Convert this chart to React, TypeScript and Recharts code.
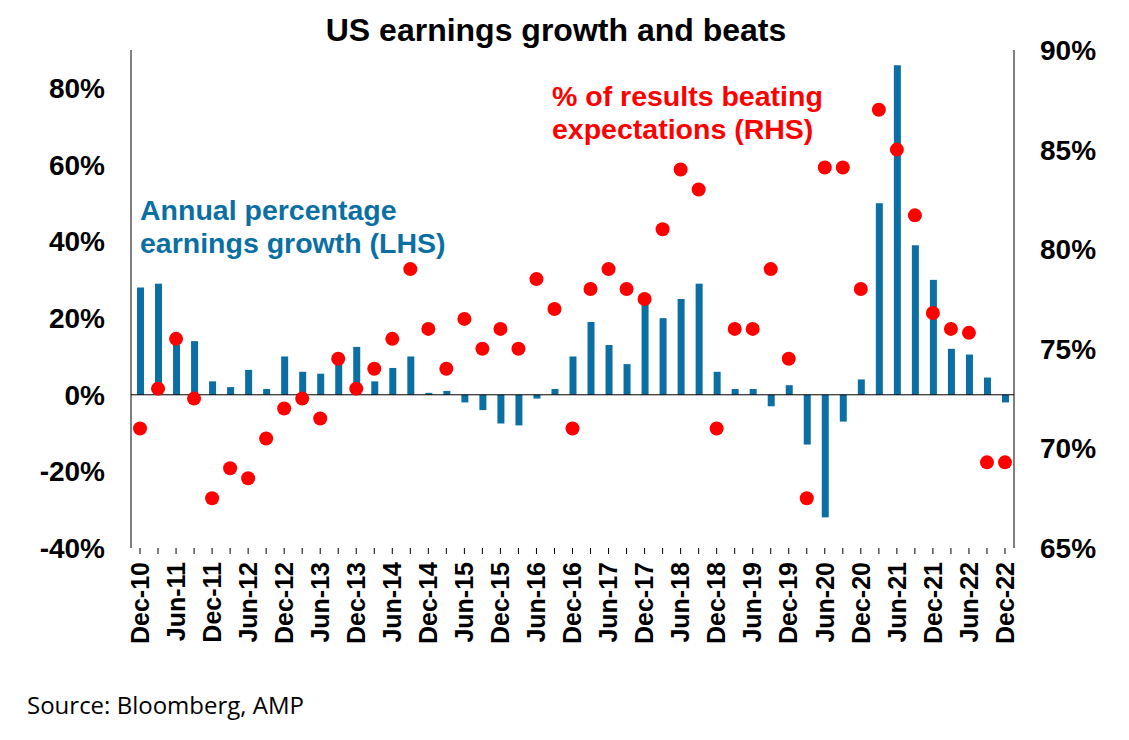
import { ComposedChart, Bar, Line, XAxis, YAxis, ReferenceLine } from 'recharts';

const months = ['Dec', 'Mar', 'Jun', 'Sep'];
const quarters: string[] = [];
for (let i = 0; i < 49; i++) {
  const m = months[i % 4];
  const yr = 10 + Math.floor((i + 3) / 4);
  quarters.push(`${m}-${yr}`);
}

const growth = [
  28, 29, 13, 14, 3.5, 2, 6.5, 1.5, 10, 6, 5.5, 8, 12.5, 3.5, 7, 10, 0.5,
  1, -2, -4, -7.5, -8, -1, 1.5, 10, 19, 13, 8, 24, 20, 25, 29, 6, 1.5, 1.5,
  -3, 2.5, -13, -32, -7, 4, 50, 86, 39, 30, 12, 10.5, 4.5, -2,
];

const beats = [
  71, 73, 75.5, 72.5, 67.5, 69, 68.5, 70.5, 72, 72.5, 71.5, 74.5, 73, 74,
  75.5, 79, 76, 74, 76.5, 75, 76, 75, 78.5, 77, 71, 78, 79, 78, 77.5, 81,
  84, 83, 71, 76, 76, 79, 74.5, 67.5, 84.1, 84.1, 78, 87, 85, 81.7, 76.8,
  76, 75.8, 69.3, 69.3,
];

const leftTicks = [-40, -20, 0, 20, 40, 60, 80];
const rightTicks = [65, 70, 75, 80, 85, 90];

const data = quarters.map((q, i) => ({ q, growth: growth[i], beats: beats[i] }));

const font = 'Arial, "Liberation Sans", sans-serif';
const blue = '#0b6fa4';
const tickStyle = { fontSize: 28, fontWeight: 'bold', fill: '#000', fontFamily: font };

const XTick = ({ x, y, payload }: any) => {
  const label: string = payload.value;
  if (!label.startsWith('Dec') && !label.startsWith('Jun')) return null;
  return (
    <text
      x={x}
      y={y + 6}
      transform={`rotate(-90 ${x} ${y + 6})`}
      textAnchor="end"
      dy="0.35em"
      fontSize={25}
      fontWeight="bold"
      fontFamily={font}
      fill="#000"
    >
      {label}
    </text>
  );
};

export default function App() {
  return (
    <div style={{ position: 'absolute', left: 0, top: 0, width: 1129, height: 740, background: '#fff', fontFamily: font }}>
      <div style={{ position: 'absolute', top: 12, left: 0, width: 1112, textAlign: 'center', fontSize: 32, fontWeight: 'bold' }}>
        US earnings growth and beats
      </div>
      <ComposedChart width={1129} height={700} data={data} margin={{ top: 50, right: 0, left: 0, bottom: 0 }} barCategoryGap={0}>
        <XAxis dataKey="q" interval={0} tick={<XTick />} height={152} axisLine={false} tickLine={{ stroke: '#000' }} />
        <YAxis
          yAxisId="left"
          domain={[-40, 90]}
          ticks={leftTicks}
          width={131}
          tickFormatter={(v) => `${v}%`}
          tick={{ ...tickStyle, dx: -18 }}
          axisLine={{ stroke: '#000' }}
          tickLine={false}
          allowDataOverflow
        />
        <YAxis
          yAxisId="right"
          orientation="right"
          domain={[65, 90]}
          ticks={rightTicks}
          width={115}
          tickFormatter={(v) => `${v}%`}
          tick={{ ...tickStyle, dx: 18 }}
          axisLine={{ stroke: '#000' }}
          tickLine={false}
        />
        <ReferenceLine yAxisId="left" y={0} stroke="#000" />
        <Bar yAxisId="left" dataKey="growth" fill={blue} barSize={7} isAnimationActive={false} />
        <Line
          yAxisId="right"
          dataKey="beats"
          stroke="none"
          dot={{ r: 7, fill: '#ff0000', stroke: 'none' }}
          activeDot={false}
          isAnimationActive={false}
        />
      </ComposedChart>
      <div style={{ position: 'absolute', left: 552, top: 80, color: '#ff0000', fontSize: 28.5, fontWeight: 'bold', lineHeight: '33px' }}>
        % of results beating<br />expectations (RHS)
      </div>
      <div style={{ position: 'absolute', left: 140, top: 194, color: blue, fontSize: 28.5, fontWeight: 'bold', lineHeight: '33px' }}>
        Annual percentage<br />earnings growth (LHS)
      </div>
      <div style={{ position: 'absolute', left: 27, top: 688, fontSize: 24, fontFamily: '"Open Sans", sans-serif' }}>
        Source: Bloomberg, AMP
      </div>
    </div>
  );
}
